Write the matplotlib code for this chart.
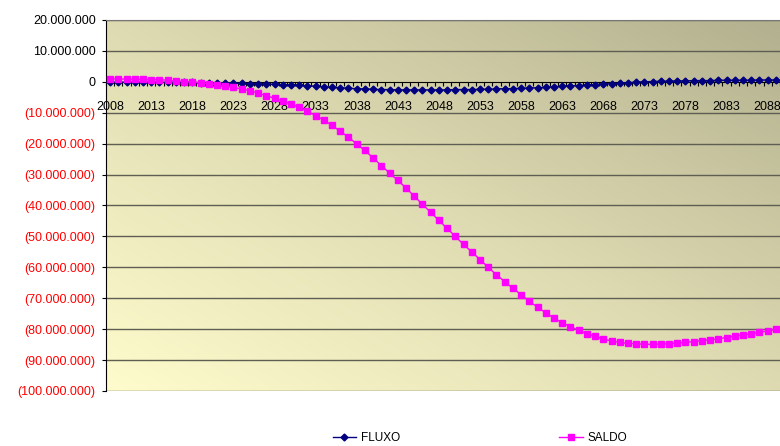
import matplotlib
matplotlib.use("Agg")
import matplotlib.pyplot as plt
from matplotlib.ticker import FixedLocator, FuncFormatter
from matplotlib.colors import LinearSegmentedColormap
import numpy as np

matplotlib.rcParams['font.family'] = ['Liberation Sans', 'DejaVu Sans']

# anos 2008..2089
anos = list(range(2008, 2090))

# valores em milhoes
fluxo = [
    -0.1, -0.1, -0.1, -0.1, -0.1, -0.1, -0.1, -0.2, -0.2, -0.2,
    -0.2, -0.3, -0.3, -0.4, -0.4, -0.5, -0.5, -0.6, -0.7, -0.8,
    -0.8, -0.9, -1.0, -1.1, -1.3, -1.4, -1.6, -1.8, -1.9, -2.1,
    -2.2, -2.3, -2.4, -2.5, -2.5, -2.6, -2.6, -2.6, -2.6, -2.6,
    -2.6, -2.6, -2.5, -2.5, -2.5, -2.4, -2.4, -2.3, -2.2, -2.2,
    -2.1, -2.0, -1.9, -1.8, -1.6, -1.5, -1.3, -1.2, -1.0, -0.9,
    -0.7, -0.6, -0.4, -0.3, -0.1, 0.0, 0.1, 0.2, 0.2, 0.3,
    0.3, 0.4, 0.4, 0.4, 0.5, 0.5, 0.5, 0.5, 0.5, 0.6, 0.6, 0.6,
]
saldo = [
    1.0, 0.9, 0.9, 0.8, 0.8, 0.7, 0.7, 0.5, 0.3, 0.1,
    -0.1, -0.3, -0.6, -1.0, -1.4, -1.8, -2.3, -2.9, -3.6, -4.5,
    -5.3, -6.2, -7.1, -8.3, -9.5, -10.9, -12.4, -14.1, -16.0, -17.9,
    -20.1, -22.2, -24.6, -27.1, -29.5, -31.9, -34.3, -37.0, -39.6, -42.2,
    -44.8, -47.4, -50.0, -52.6, -55.0, -57.5, -60.0, -62.4, -64.6, -66.8,
    -68.8, -71.0, -72.9, -74.7, -76.4, -77.9, -79.2, -80.4, -81.5, -82.3,
    -83.2, -83.8, -84.3, -84.6, -84.7, -84.9, -84.9, -84.8, -84.7, -84.5,
    -84.3, -84.0, -83.7, -83.4, -83.1, -82.7, -82.3, -81.9, -81.5, -81.0, -80.6, -80.1,
]
y_ticks = list(range(-100, 30, 10))

x = np.arange(len(anos))
fluxo_v = np.array(fluxo) * 1e6
saldo_v = np.array(saldo) * 1e6

fig = plt.figure(figsize=(7.8, 4.46), dpi=100)
ax = fig.add_axes([106 / 780, 1 - 391 / 446, 674 / 780, 371 / 446])

# fundo em degrade (amarelo claro embaixo a esquerda -> oliva em cima a direita)
gx, gy = np.meshgrid(np.linspace(0, 1, 200), np.linspace(0, 1, 200))
grad = (gx + gy) / 2
cmap = LinearSegmentedColormap.from_list("fundo", ["#fefccc", "#dedbb2", "#b3b08f"])
ax.imshow(grad, extent=[0, 1, 0, 1], transform=ax.transAxes, origin="lower",
          cmap=cmap, aspect="auto", zorder=0)

for v in y_ticks:
    if v != 0:
        ax.axhline(v * 1e6, color="#5e5e52", lw=1, zorder=1)

ax.plot(x, fluxo_v, color="#000080", marker="D", markersize=3.5, lw=1, label="FLUXO", zorder=3)
ax.plot(x, saldo_v, color="#ff00ff", marker="s", markersize=4.5, lw=1, label="SALDO", zorder=4)

ax.set_xlim(-0.5, len(anos) - 0.5)
ax.set_ylim(-100e6, 20e6)

# eixo x cruzando no zero
ax.spines['bottom'].set_position(('data', 0))
ax.spines['bottom'].set_zorder(2)
ax.spines['right'].set_visible(False)
ax.spines['top'].set_color("#777777")
ax.xaxis.set_major_locator(FixedLocator(x[::5]))
ax.set_xticklabels([str(a) for a in anos[::5]])
ax.xaxis.set_minor_locator(FixedLocator(np.arange(-0.5, len(anos), 1)))
ax.tick_params(axis="x", which="major", length=0, pad=13.5, labelsize=9)
ax.tick_params(axis="x", which="minor", length=3, direction="out", width=0.8)

def fmt_milhar(v, pos):
    n = int(round(v))
    s = f"{abs(n):,}".replace(",", ".")
    return f"({s})" if n < 0 else s

ax.yaxis.set_major_locator(FixedLocator([v * 1e6 for v in y_ticks]))
ax.yaxis.set_major_formatter(FuncFormatter(fmt_milhar))
ax.tick_params(axis="y", length=3, pad=4.5, labelsize=9)
for lab, v in zip(ax.get_yticklabels(), y_ticks):
    lab.set_color("#ff0000" if v < 0 else "black")

fig.legend(loc="center", bbox_to_anchor=(480 / 780, 1 - 438 / 446), ncol=2,
           frameon=False, fontsize=8.5, handlelength=2, columnspacing=13.5,
           handletextpad=0.4)

plt.savefig("out.png", dpi=100)
plt.close()
